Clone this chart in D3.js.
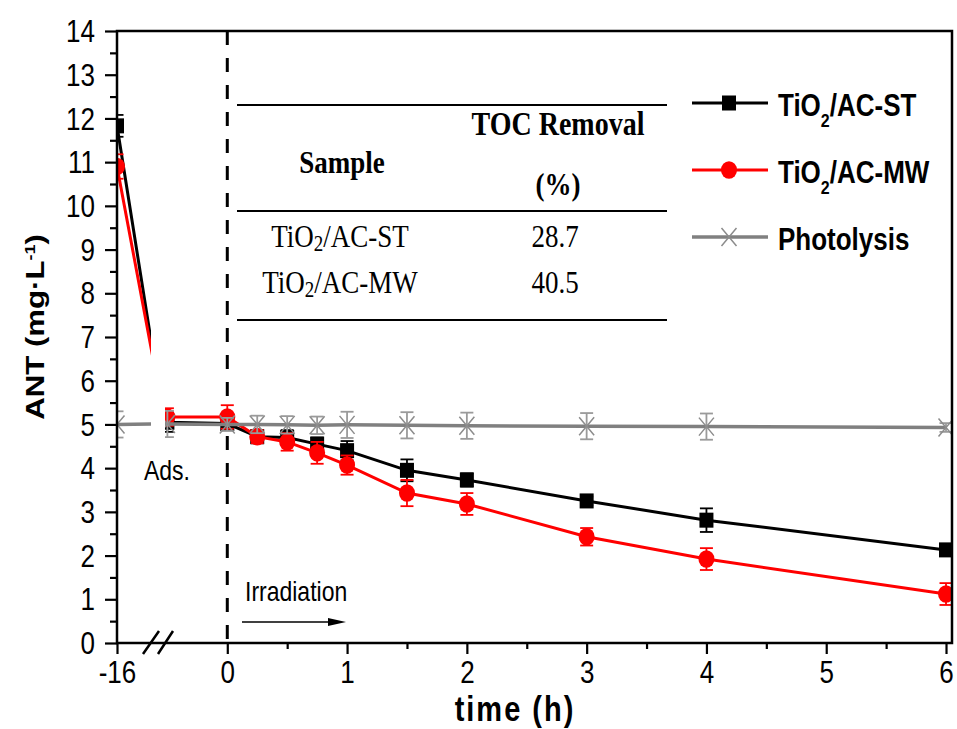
<!DOCTYPE html>
<html>
<head>
<meta charset="utf-8">
<script src="https://cdn.jsdelivr.net/npm/d3@7"></script>
<style>
  body { margin: 0; background: #fff; }
  svg { display: block; }
</style>
</head>
<body>
<svg id="chart"></svg>
<script>
// Data (time in h, ANT in mg/L)
const times = [-16, -0.5, 0, 0.25, 0.5, 0.75, 1, 1.5, 2, 3, 4, 6];
const stValues = [11.83, 5.05, 5.02, 4.72, 4.70, 4.55, 4.40, 3.95, 3.73, 3.25, 2.81, 2.13];
const stErrors = [0.25, 0.22, 0.15, 0.15, 0.17, 0.15, 0.22, 0.25, 0.15, 0.10, 0.27, 0.12];
const mwValues = [10.90, 5.17, 5.17, 4.72, 4.60, 4.35, 4.07, 3.43, 3.18, 2.43, 1.92, 1.12];
const mwErrors = [0.28, 0.20, 0.27, 0.15, 0.20, 0.25, 0.22, 0.30, 0.25, 0.20, 0.25, 0.25];
const photoValues = [5.00, 5.01, 5.00, 5.00, 4.99, 4.98, 4.99, 4.98, 4.97, 4.96, 4.95, 4.93];
const photoErrors = [0.30, 0.30, 0.15, 0.20, 0.20, 0.20, 0.30, 0.30, 0.30, 0.30, 0.30, 0.10];

const legendLabels = ['TiO2/AC-ST', 'TiO2/AC-MW', 'Photolysis'];
const tableSamples = ['TiO2/AC-ST', 'TiO2/AC-MW'];
const tocRemoval = ['28.7', '40.5'];

const yTicks = [0, 1, 2, 3, 4, 5, 6, 7, 8, 9, 10, 11, 12, 13, 14];
const xTicksLeft = [-16];
const xTicksRight = [0, 1, 2, 3, 4, 5, 6];
const xMinorRight = [0.5, 1.5, 2.5, 3.5, 4.5, 5.5];

//Canvas
let width = 957;
let height = 729;
let plot = {left: 117, right: 952, top: 31, bottom: 643};
let breakLeft = 151;   // end of the -16 segment
let breakRight = 165;  // start of the main segment

// the original picture is stretched vertically, so text is too
const STRETCH = 1.2;
const sans = 'Liberation Sans, Arial, Helvetica, sans-serif';
const serif = 'Liberation Serif, Times New Roman, Times, serif';

let svg = d3.select('#chart')
    .attr('width', width)
    .attr('height', height);

//Scales
let yScale = d3.scaleLinear().domain([0, 14]).range([plot.bottom, plot.top]);
let xLeft = d3.scaleLinear().domain([-16, -4.8]).range([plot.left, breakLeft]);
let xRight = d3.scaleLinear().domain([-0.52, 6.05]).range([breakRight, plot.right]);

let defs = svg.append('defs');
defs.append('clipPath').attr('id', 'clip-left')
    .append('rect')
    .attr('x', plot.left).attr('y', plot.top)
    .attr('width', breakLeft - plot.left).attr('height', plot.bottom - plot.top);
defs.append('clipPath').attr('id', 'clip-right')
    .append('rect')
    .attr('x', breakRight).attr('y', plot.top)
    .attr('width', plot.right - breakRight).attr('height', plot.bottom - plot.top);

// text with the vertical stretch applied
const addText = (parent, x, y, str, opts) => {
    return parent.append('text')
        .attr('transform', 'translate(' + x + ',' + y + ') scale(1,' + STRETCH + ')')
        .attr('font-family', opts.family || sans)
        .attr('font-size', opts.size)
        .attr('font-weight', opts.weight || 'normal')
        .attr('text-anchor', opts.anchor || 'start')
        .text(str);
}

// "TiO2/..." with the 2 as a subscript
const subscriptText = (textSel, str, subSize, shift) => {
    textSel.text(null);
    let parts = str.split('O2');
    if (parts.length === 1) {
        textSel.append('tspan').text(str);
        return;
    }
    textSel.append('tspan').text(parts[0] + 'O');
    textSel.append('tspan').attr('dy', shift).attr('font-size', subSize).text('2');
    textSel.append('tspan').attr('dy', -shift).text(parts[1]);
}

//Dashed line at t = 0
svg.append('line')
    .attr('x1', xRight(0)).attr('x2', xRight(0))
    .attr('y1', plot.top).attr('y2', plot.bottom)
    .attr('stroke', '#000')
    .attr('stroke-width', 3)
    .attr('stroke-dasharray', '14,13');

//Series
let series = [
    {values: stValues, errors: stErrors, color: '#000000', errColor: '#000000', marker: 'square'},
    {values: mwValues, errors: mwErrors, color: '#ff0000', errColor: '#ff0000', marker: 'circle'},
    {values: photoValues, errors: photoErrors, color: '#808080', errColor: '#9a9a9a', marker: 'cross'}
];

const drawMarker = (g, type, color) => {
    if (type === 'square') {
        g.append('rect')
            .attr('x', -7).attr('y', -7.5)
            .attr('width', 14).attr('height', 15)
            .attr('fill', color);
    } else if (type === 'circle') {
        g.append('ellipse')
            .attr('rx', 8).attr('ry', 8.8)
            .attr('fill', color);
    } else {
        g.append('path')
            .attr('d', 'M-7.5,-9L7.5,9M-7.5,9L7.5,-9')
            .attr('stroke', '#8c8c8c')
            .attr('stroke-width', 1.5)
            .attr('fill', 'none');
    }
}

const drawSeries = (clipId, xScale) => {
    let layer = svg.append('g').attr('clip-path', 'url(#' + clipId + ')');

    series.forEach(s => {
        let pts = times.map((t, i) => ({t: t, v: s.values[i], e: s.errors[i]}));

        layer.append('path')
            .datum(pts)
            .attr('fill', 'none')
            .attr('stroke', s.color)
            .attr('stroke-width', s.marker === 'cross' ? 3.5 : 3)
            .attr('d', d3.line().x(d => xScale(d.t)).y(d => yScale(d.v)));

        let bars = layer.append('g')
            .selectAll('g')
            .data(pts)
            .enter()
            .append('g')
            .attr('stroke', s.errColor)
            .attr('stroke-width', 1.8);
        bars.append('line')
            .attr('x1', d => xScale(d.t)).attr('x2', d => xScale(d.t))
            .attr('y1', d => yScale(d.v + d.e)).attr('y2', d => yScale(d.v - d.e));
        bars.append('line')
            .attr('x1', d => xScale(d.t) - 6.5).attr('x2', d => xScale(d.t) + 6.5)
            .attr('y1', d => yScale(d.v + d.e)).attr('y2', d => yScale(d.v + d.e));
        bars.append('line')
            .attr('x1', d => xScale(d.t) - 6.5).attr('x2', d => xScale(d.t) + 6.5)
            .attr('y1', d => yScale(d.v - d.e)).attr('y2', d => yScale(d.v - d.e));

        layer.append('g')
            .selectAll('g')
            .data(pts)
            .enter()
            .append('g')
            .attr('transform', d => 'translate(' + xScale(d.t) + ',' + yScale(d.v) + ')')
            .each(function() { drawMarker(d3.select(this), s.marker, s.color); });
    });
}

drawSeries('clip-left', xLeft);
drawSeries('clip-right', xRight);

//Axes
let plainFormat = d => String(d);

let yAxis = svg.append('g')
    .attr('transform', 'translate(' + plot.left + ',0)')
    .call(d3.axisLeft(yScale).tickValues(yTicks).tickSize(12).tickPadding(10).tickFormat(plainFormat));
svg.append('g')
    .attr('transform', 'translate(' + plot.left + ',0)')
    .call(d3.axisLeft(yScale).tickValues(yTicks.slice(0, -1).map(d => d + 0.5)).tickSize(7).tickFormat(''));

let xAxisR = svg.append('g')
    .attr('transform', 'translate(0,' + plot.bottom + ')')
    .call(d3.axisBottom(xRight).tickValues(xTicksRight).tickSize(11).tickFormat(plainFormat));
svg.append('g')
    .attr('transform', 'translate(0,' + plot.bottom + ')')
    .call(d3.axisBottom(xRight).tickValues(xMinorRight).tickSize(6).tickFormat(''));
let xAxisL = svg.append('g')
    .attr('transform', 'translate(0,' + plot.bottom + ')')
    .call(d3.axisBottom(xLeft).tickValues(xTicksLeft).tickSize(11).tickFormat(plainFormat));

svg.selectAll('.domain').remove();
svg.selectAll('.tick line').attr('stroke', '#000').attr('stroke-width', 2.2);
svg.selectAll('.tick text')
    .attr('font-family', sans)
    .attr('font-size', 26)
    .attr('fill', '#000')
    .attr('transform', 'scale(1,' + STRETCH + ')');
yAxis.selectAll('.tick text').attr('dy', '0.34em');
xAxisR.selectAll('.tick text').attr('y', 15);
xAxisL.selectAll('.tick text').attr('y', 15);

// frame
let frame = svg.append('g').attr('stroke', '#000').attr('stroke-width', 2.5).attr('fill', 'none');
frame.append('path')
    .attr('d', 'M' + plot.left + ',' + plot.top + 'H' + plot.right + 'V' + plot.bottom + 'H' + plot.left + 'Z');

// axis break marks
frame.append('path')
    .attr('d', 'M143,654L159,631M158,654L173,631')
    .attr('stroke-width', 2.5);

//Axis titles
addText(svg, 515, 721, 'time (h)', {size: 29, weight: 'bold', anchor: 'middle'})
    .attr('letter-spacing', 2);

let yTitle = svg.append('text')
    .attr('transform', 'translate(44,327) rotate(-90) scale(' + STRETCH + ',1)')
    .attr('font-family', sans)
    .attr('font-size', 26)
    .attr('font-weight', 'bold')
    .attr('text-anchor', 'middle');
yTitle.append('tspan').text('ANT (mg\u00b7L');
yTitle.append('tspan').attr('dy', -9).attr('font-size', 15).text('-1');
yTitle.append('tspan').attr('dy', 9).text(')');

//Annotations
addText(svg, 144, 480, 'Ads.', {size: 23});
addText(svg, 245, 601, 'Irradiation', {size: 23});
svg.append('line')
    .attr('x1', 242).attr('x2', 330)
    .attr('y1', 622).attr('y2', 622)
    .attr('stroke', '#000').attr('stroke-width', 1.5);
svg.append('path')
    .attr('d', 'M328,618L346,622L328,626Z')
    .attr('fill', '#000');

//Legend
let legend = svg.append('g');
legendLabels.forEach((label, i) => {
    let s = series[i];
    let ly = 103 + i * 67;
    legend.append('line')
        .attr('x1', 692).attr('x2', 768)
        .attr('y1', ly).attr('y2', ly)
        .attr('stroke', s.color)
        .attr('stroke-width', s.marker === 'cross' ? 3.5 : 3);
    let m = legend.append('g').attr('transform', 'translate(729,' + ly + ')');
    drawMarker(m, s.marker, s.color);
    let t = addText(legend, 778, ly + 13, '', {size: 26, weight: 'bold'});
    subscriptText(t, label, 16, 9);
});

//Inset table
let table = svg.append('g');
[105, 211, 320].forEach(ty => {
    table.append('line')
        .attr('x1', 237).attr('x2', 667)
        .attr('y1', ty).attr('y2', ty)
        .attr('stroke', '#000').attr('stroke-width', 2);
});
addText(table, 342, 173, 'Sample', {family: serif, size: 27, weight: 'bold', anchor: 'middle'});
addText(table, 558, 135, 'TOC Removal', {family: serif, size: 28, weight: 'bold', anchor: 'middle'});
addText(table, 558, 195, '(%)', {family: serif, size: 27, weight: 'bold', anchor: 'middle'});
tableSamples.forEach((name, i) => {
    let ty = 247 + i * 46;
    let t = addText(table, 340, ty, '', {family: serif, size: 27, anchor: 'middle'});
    subscriptText(t, name, 19, 3);
    addText(table, 555, ty, tocRemoval[i], {family: serif, size: 27, anchor: 'middle'});
});
</script>
</body>
</html>
